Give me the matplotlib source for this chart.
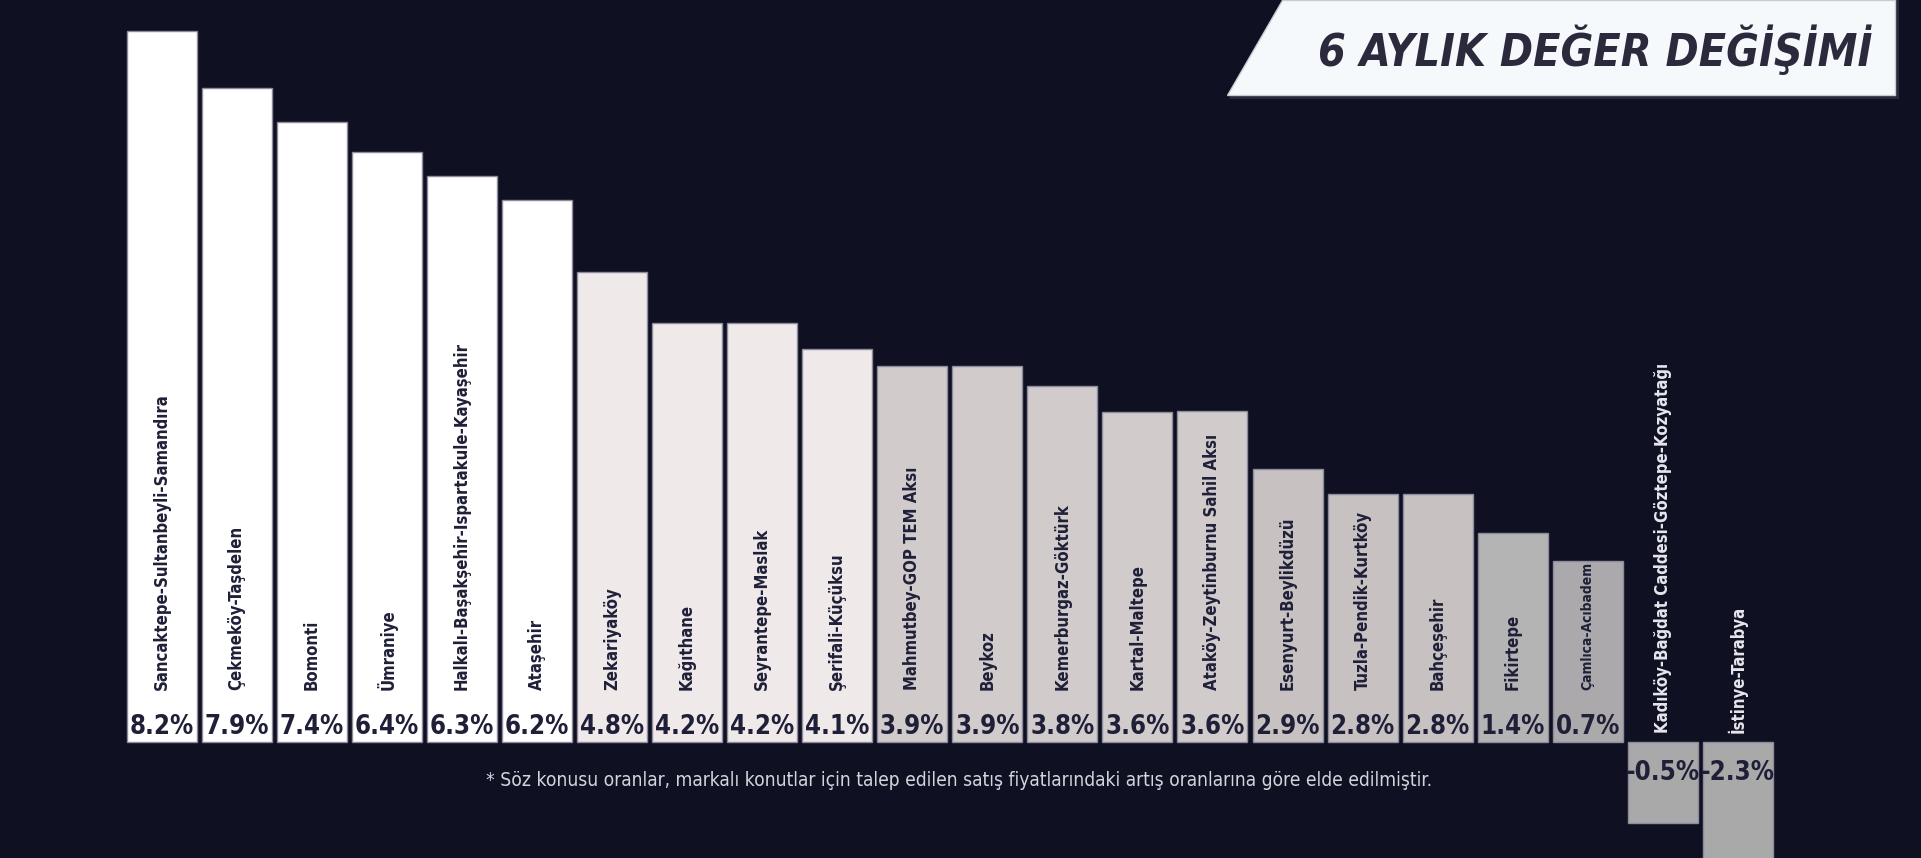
import matplotlib
matplotlib.use("Agg")
import matplotlib.pyplot as plt
from matplotlib.patches import Polygon

# Bölgeler ve 6 aylık değişim oranları
bolgeler = ["Sancaktepe-Sultanbeyli-Samandıra", "Çekmeköy-Taşdelen", "Bomonti", "Ümraniye",
            "Halkalı-Başakşehir-Ispartakule-Kayaşehir", "Ataşehir", "Zekariyaköy", "Kağıthane",
            "Seyrantepe-Maslak", "Şerifali-Küçüksu", "Mahmutbey-GOP TEM Aksı", "Beykoz",
            "Kemerburgaz-Göktürk", "Kartal-Maltepe", "Ataköy-Zeytinburnu Sahil Aksı",
            "Esenyurt-Beylikdüzü", "Tuzla-Pendik-Kurtköy", "Bahçeşehir", "Fikirtepe",
            "Çamlıca-Acıbadem", "Kadıköy-Bağdat Caddesi-Göztepe-Kozyatağı", "İstinye-Tarabya"]
oranlar = ["8.2%", "7.9%", "7.4%", "6.4%", "6.3%", "6.2%", "4.8%", "4.2%", "4.2%", "4.1%",
           "3.9%", "3.9%", "3.8%", "3.6%", "3.6%", "2.9%", "2.8%", "2.8%", "1.4%", "0.7%",
           "-0.5%", "-2.3%"]
# sütun boyları (infografikte çizildiği gibi, orana orantılı değil)
boylar = [711, 654, 620, 590, 566, 542, 470, 419, 419, 393, 376, 376, 356, 330, 331,
          273, 248, 248, 209, 181, -81, -140]

renkler = (["#ffffff"] * 6 + ["#efe9ea"] * 4 + ["#d1cbcc"] * 5 + ["#c7c1c2"] * 3
           + ["#b4b4b4", "#aba9ab"] + ["#a9a9a9"] * 2)

bg = "#0f1022"
koyu = "#1f2038"
yazi = dict(family="DejaVu Sans", fontstretch="condensed")

fig = plt.figure(figsize=(19.21, 8.58), dpi=100, facecolor=bg)
ax = fig.add_axes([0, 0, 1, 1], facecolor=bg)
x = list(range(len(bolgeler)))
ax.bar(x, boylar, width=0.933, color=renkler, edgecolor="#8e8c9c", linewidth=1)
ax.set_xlim(-2.154, 23.44)
ax.set_ylim(-116, 742)
ax.axis("off")

etiketler = []
for i, (ad, oran, h) in enumerate(zip(bolgeler, oranlar, boylar)):
    if h > 0:
        t = ax.text(i, 52, ad, rotation=90, ha="center", va="bottom", fontsize=12,
                    fontweight="bold", color=koyu, **yazi)
        etiketler.append((t, h))
        ax.text(i, 15, oran, ha="center", va="center", fontsize=18.5,
                fontweight="bold", color=koyu, **yazi)
    else:
        ax.text(i, 9, ad, rotation=90, ha="center", va="bottom", fontsize=12,
                fontweight="bold", color="#e6e6ee", **yazi)
        ax.text(i, -31, oran, ha="center", va="center", fontsize=18.5,
                fontweight="bold", color=koyu, **yazi)

# sütuna sığmayan etiketi biraz küçült
fig.canvas.draw()
r = fig.canvas.get_renderer()
for t, h in etiketler:
    bb = t.get_window_extent(r)
    uzunluk = bb.height
    bos = h - 52 - 3
    if uzunluk > bos:
        t.set_fontsize(max(10, 12 * bos / uzunluk))

# başlık kutusu
W, H = 1921, 858
golge = Polygon([(1286 / W, 1), (1899 / W, 1), (1899 / W, 1 - 99 / H), (1229 / W, 1 - 99 / H)],
                closed=True, transform=fig.transFigure, facecolor="#3a3b4a",
                edgecolor="none", alpha=0.6)
fig.patches.append(golge)
kutu = Polygon([(1282 / W, 1), (1895 / W, 1), (1895 / W, 1 - 95 / H), (1227 / W, 1 - 95 / H)],
               closed=True, transform=fig.transFigure, facecolor="#f6f9fb",
               edgecolor="#c8ccd4", linewidth=1)
fig.patches.append(kutu)
fig.text(1595 / W, 1 - 50 / H, "6 AYLIK DEĞER DEĞİŞİMİ", ha="center", va="center",
         fontsize=32, fontweight="bold", style="italic", color="#2a2a3c", **yazi)

fig.text(486 / W, 1 - 781 / H,
         "* Söz konusu oranlar, markalı konutlar için talep edilen satış fiyatlarındaki "
         "artış oranlarına göre elde edilmiştir.",
         ha="left", va="center", fontsize=13.8, color="#d4d4dc", **yazi)

fig.savefig("out.png", dpi=100, facecolor=bg)
